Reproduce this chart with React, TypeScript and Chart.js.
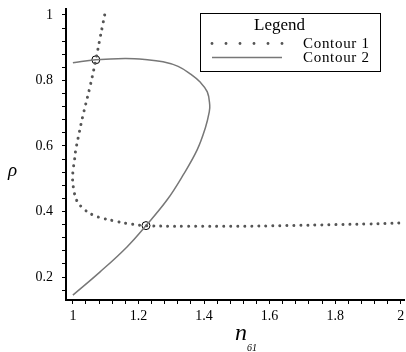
import React, { useEffect, useRef } from "react";
import { Chart, registerables } from "chart.js";
Chart.register(...registerables);

// Contour 1 (dotted)
const contour1X = [1.097, 1.090, 1.083, 1.070, 1.052, 1.030, 1.018, 1.008, 1.005, 1.001, 0.999, 1.003, 1.011, 1.034, 1.062, 1.093, 1.128, 1.164, 1.223, 1.35, 1.5, 1.65, 1.8, 1.9, 2.0];
const contour1Y = [1.0, 0.965, 0.93, 0.863, 0.78, 0.69, 0.634, 0.583, 0.557, 0.529, 0.498, 0.466, 0.435, 0.407, 0.389, 0.379, 0.371, 0.364, 0.357, 0.355, 0.355, 0.357, 0.360, 0.362, 0.365];

// Contour 2 (solid)
const contour2X = [1.0, 1.083, 1.165, 1.223, 1.287, 1.336, 1.379, 1.404, 1.416, 1.4174, 1.41, 1.388, 1.358, 1.321, 1.275, 1.22, 1.159, 1.07, 1.0];
const contour2Y = [0.145, 0.216, 0.292, 0.357, 0.435, 0.511, 0.588, 0.655, 0.704, 0.725, 0.765, 0.795, 0.82, 0.843, 0.857, 0.864, 0.867, 0.863, 0.854];

// Intersections
const intersectX = [1.07, 1.223];
const intersectY = [0.863, 0.357];

const xTickLabels = [1, 1.2, 1.4, 1.6, 1.8, 2];
const yTickLabels = [0.2, 0.4, 0.6, 0.8, 1];
const legendTitle = "Legend";
const legendLabels = ["Contour 1", "Contour 2"];
const xTitle = "n";
const xTitleSub = "61";
const yTitle = "ρ";

const SERIF = '"Liberation Serif", "DejaVu Serif", serif';

function isLabel(v: number, list: number[]) {
  return list.some((t) => Math.abs(t - v) < 1e-6);
}
function fmt(v: number) {
  return String(Math.round(v * 10) / 10);
}

const overlayPlugin = {
  id: "overlay",
  afterDraw(chart: any) {
    const ctx = chart.ctx as CanvasRenderingContext2D;
    ctx.save();
    // legend box
    ctx.strokeStyle = "#000";
    ctx.lineWidth = 1;
    ctx.strokeRect(200.5, 13.5, 180, 58);
    ctx.fillStyle = "#000";
    ctx.font = `17px ${SERIF}`;
    ctx.textAlign = "center";
    ctx.textBaseline = "alphabetic";
    ctx.fillText(legendTitle, 279.5, 30);
    // dotted sample
    ctx.fillStyle = "#555";
    for (let i = 0; i < 6; i++) {
      ctx.beginPath();
      ctx.arc(212 + i * 14, 43.5, 1.4, 0, Math.PI * 2);
      ctx.fill();
    }
    // solid sample
    ctx.strokeStyle = "#777";
    ctx.lineWidth = 1.5;
    ctx.beginPath();
    ctx.moveTo(212, 57.5);
    ctx.lineTo(282, 57.5);
    ctx.stroke();
    ctx.fillStyle = "#000";
    ctx.textAlign = "left";
    ctx.font = `15px ${SERIF}`;
    (ctx as any).letterSpacing = "0.7px";
    ctx.fillText(legendLabels[0], 303, 47.5);
    ctx.fillText(legendLabels[1], 303, 61.5);
    (ctx as any).letterSpacing = "0px";
    // axis titles
    ctx.font = `italic 19px ${SERIF}`;
    ctx.textAlign = "center";
    ctx.fillText(yTitle, 12.5, 176);
    ctx.textAlign = "left";
    ctx.font = `italic 24px ${SERIF}`;
    ctx.fillText(xTitle, 235, 340);
    ctx.font = `italic 10px ${SERIF}`;
    ctx.fillText(xTitleSub, 247, 351);
    ctx.restore();
  },
};

export default function App() {
  const ref = useRef<HTMLCanvasElement>(null);
  useEffect(() => {
    if (!ref.current) return;
    const chart = new Chart(ref.current, {
      type: "scatter",
      data: {
        datasets: [
          {
            label: legendLabels[0],
            data: contour1X.map((x, i) => ({ x, y: contour1Y[i] })),
            showLine: true,
            borderColor: "#555",
            borderWidth: 3,
            borderDash: [0.01, 7],
            borderCapStyle: "round",
            pointRadius: 0,
            tension: 0.4,
            fill: false,
          } as any,
          {
            label: legendLabels[1],
            data: contour2X.map((x, i) => ({ x, y: contour2Y[i] })),
            showLine: true,
            borderColor: "#777",
            borderWidth: 1.5,
            pointRadius: 0,
            tension: 0.4,
            fill: false,
          } as any,
          {
            label: "intersections",
            data: intersectX.map((x, i) => ({ x, y: intersectY[i] })),
            showLine: false,
            pointRadius: 4,
            pointBorderColor: "#000",
            pointBackgroundColor: "rgba(0,0,0,0)",
            pointBorderWidth: 1,
          } as any,
        ],
      },
      options: {
        animation: false,
        responsive: false,
        devicePixelRatio: 1,
        layout: { autoPadding: false, padding: { top: 9, right: 2, left: 0, bottom: 0 } },
        plugins: { legend: { display: false }, tooltip: { enabled: false } },
        scales: {
          x: {
            type: "linear",
            min: 0.979,
            max: 2.01,
            afterFit: (s: any) => {
              s.height = 52;
              s.paddingLeft = 0;
              s.paddingRight = 0;
            },
            ticks: {
              stepSize: 0.04,
              includeBounds: false,
              autoSkip: false,
              maxRotation: 0,
              padding: 4,
              color: "#000",
              font: { family: SERIF, size: 14 },
              callback: (v: any) => (isLabel(Number(v), xTickLabels) ? fmt(Number(v)) : ""),
            },
            grid: { drawOnChartArea: false, drawTicks: true, tickLength: 4, color: "#000", lineWidth: 1 },
            border: { display: true, color: "#000", width: 2 },
          },
          y: {
            type: "linear",
            min: 0.13,
            max: 1.018,
            afterFit: (s: any) => {
              s.width = 66;
              s.paddingTop = 0;
              s.paddingBottom = 0;
            },
            ticks: {
              stepSize: 0.04,
              includeBounds: false,
              autoSkip: false,
              padding: 9,
              color: "#000",
              font: { family: SERIF, size: 14 },
              callback: (v: any) => (isLabel(Number(v), yTickLabels) ? fmt(Number(v)) : ""),
            },
            grid: { drawOnChartArea: false, drawTicks: true, tickLength: 4, color: "#000", lineWidth: 1 },
            border: { display: true, color: "#000", width: 2 },
          },
        },
      },
      plugins: [overlayPlugin],
    });
    return () => chart.destroy();
  }, []);
  return (
    <div style={{ position: "absolute", left: 0, top: 0, width: 406, height: 352, background: "#fff" }}>
      <canvas ref={ref} width={406} height={352} />
    </div>
  );
}
